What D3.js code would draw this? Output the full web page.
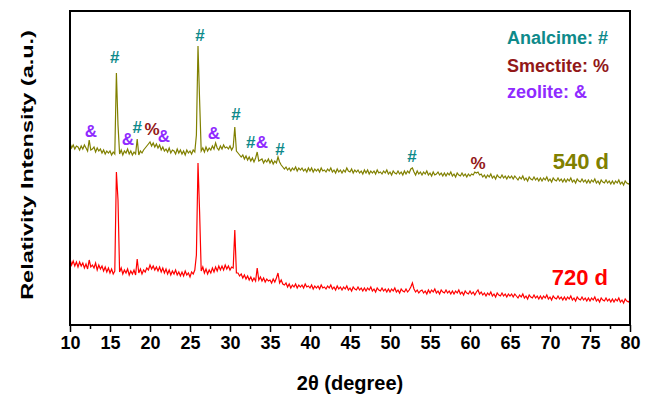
<!DOCTYPE html>
<html>
<head>
<meta charset="utf-8">
<script src="https://cdn.jsdelivr.net/npm/d3@7"></script>
<style>
  body { margin: 0; background: #fff; }
  text { font-family: "Liberation Sans", Arial, sans-serif; font-weight: bold; }
</style>
</head>
<body>
<figure id="xrd" style="margin:0"></figure>
<script>
// scan grid: 10 -> 80 deg, step 0.2
const scanStart = 10
const scanStep = 0.2

// 540 d pattern (a.u., already stacked)
const int540 = [
  182,177,180,176,179, 178,175,179,176,180, 177,174,185,175,176, 178,173,177,174,176,
  172,175,171,174,172, 174,170,173,171,252, 200,171,175,170,174, 172,176,171,174,170,
  173,171,186,170,174, 172,175,177,179,181, 183,179,182,178,181, 177,180,175,178,174,
  176,173,177,172,175, 174,171,176,172,175, 171,174,170,175,172, 174,171,175,173,190,
  279,225,174,177,173, 178,174,177,175,179, 176,182,177,175,179, 176,180,177,178,176,
  179,175,178,198,174, 172,170,168,170,166, 169,165,168,164,167, 163,167,173,164,165,
  166,162,165,163,166, 162,165,161,164,162, 168,163,160,158,156, 158,155,157,154,157,
  155,158,154,157,155, 157,154,156,153,157, 154,157,153,156,154, 156,153,157,154,155,
  153,156,154,157,153, 155,152,156,153,155, 152,155,153,157,154, 153,156,152,155,153,
  155,152,154,151,155, 152,155,151,154,152, 154,151,155,152,153, 151,154,152,155,151,
  153,150,154,152,151, 154,151,153,150,154, 151,154,152,156,157, 153,150,154,151,153,
  150,153,151,154,150, 152,149,153,150,151, 153,150,152,149,152, 149,152,150,153,149,
  151,148,152,150,149, 152,149,151,148,151, 149,151,150,153,152, 153,150,151,148,150,
  147,150,148,151,147, 149,146,150,148,147, 150,147,149,146,149, 147,149,146,149,147,
  145,148,146,149,145, 147,144,148,146,145, 148,145,147,144,147, 144,147,145,148,144,
  146,143,147,145,144, 147,144,146,143,146, 143,146,144,147,143, 145,142,146,144,143,
  146,143,145,142,145, 142,145,143,146,142, 144,141,145,143,142, 145,142,144,141,144,
  141,144,142,145,141, 143,140,144,142,141, 142
]

// 720 d pattern
const int720 = [
  66,60,64,59,63, 58,63,59,62,57, 61,56,65,58,60, 57,62,55,60,56,
  59,54,58,53,57, 52,56,51,54,153, 125,53,57,51,55, 52,56,50,54,51,
  55,50,66,52,56, 51,55,53,57,55, 60,56,59,55,58, 54,58,53,57,52,
  56,51,55,50,54, 51,55,50,53,49, 53,49,54,50,52, 48,53,51,55,70,
  162,113,54,58,52, 56,51,55,52,57, 53,58,54,59,55, 59,55,60,56,59,
  55,58,57,95,52, 52,49,51,47,50, 46,49,45,48,44, 47,44,57,45,48,
  44,47,43,46,44, 45,42,46,43,47, 52,42,45,41,40, 42,38,41,37,40,
  38,41,37,40,38, 40,37,41,38,39, 37,40,36,39,37, 39,36,40,37,38,
  36,39,37,40,36, 38,35,39,36,38, 35,38,36,39,35, 37,34,38,36,35,
  38,35,37,34,37, 34,37,35,38,34, 36,33,37,35,34, 37,34,36,33,36,
  33,36,34,37,33, 35,32,36,34,33, 36,33,35,38,42, 36,33,35,32,34,
  35,32,34,31,35, 32,35,33,36,32, 34,31,35,33,32, 35,32,34,31,34,
  31,34,32,35,31, 33,30,34,32,31, 34,31,33,30,33, 35,31,33,30,32,
  29,32,30,33,29, 31,28,32,30,29, 32,29,31,28,31, 29,31,28,31,29,
  27,30,28,31,27, 29,26,30,28,27, 30,27,29,26,29, 26,29,27,30,26,
  28,25,29,27,26, 29,26,28,25,28, 25,28,26,29,25, 27,24,28,26,25,
  28,25,27,24,27, 24,27,25,28,24, 26,23,27,25,24, 27,24,26,23,26,
  23,26,24,27,23, 25,22,26,24,23, 25
]

// phase markers on the 540 d pattern
const markPos   = [15.6, 26.25, 12.6, 17.25, 18.4, 20.25, 21.75, 28, 30.75, 32.6, 34, 36.25, 52.75, 61]
const markY     = [262, 284, 188, 180, 192, 190, 183, 186, 205, 177, 177, 170, 163, 156]
const markPhase = ["A", "A", "Z", "Z", "A", "S", "Z", "Z", "A", "A", "Z", "A", "A", "S"]

const phaseNames  = { A: "Analcime", S: "Smectite", Z: "zeolite" }
const phaseSymbol = { A: "#", S: "%", Z: "&" }
const phaseColor  = { A: "#0e8a8a", S: "#921818", Z: "#8f2bff" }

const xTicks = d3.range(10, 81, 5)
const xMinor = d3.range(12.5, 80, 5)

const W = 649, H = 396
const plotL = 70, plotR = 630, plotT = 11, plotB = 325

const svg = d3.select("figure#xrd")
  .append("svg")
  .attr("width", W)
  .attr("height", H)

const x = d3.scaleLinear().domain([10, 80]).range([plotL, plotR])
const y = d3.scaleLinear().domain([0, 314]).range([plotB, plotT])

const twoTheta = int540.map((d, i) => scanStart + i * scanStep)

const line = d3.line()
  .x((d, i) => x(twoTheta[i]))
  .y(d => y(d))

svg.append("path")
  .datum(int720)
  .attr("d", line)
  .attr("fill", "none")
  .attr("stroke", "#ff0000")
  .attr("stroke-width", 1.2)

svg.append("path")
  .datum(int540)
  .attr("d", line)
  .attr("fill", "none")
  .attr("stroke", "#808000")
  .attr("stroke-width", 1.2)

// x axis, major + minor ticks
const axis = svg.append("g")
  .attr("transform", "translate(0," + plotB + ")")
  .call(d3.axisBottom(x).tickValues(xTicks).tickSize(7).tickPadding(4))
axis.select(".domain").remove()
axis.selectAll(".tick line").attr("stroke", "#000").attr("stroke-width", 1.5)
axis.selectAll("text")
  .attr("fill", "#000")
  .style("font-size", "18px")
  .attr("font-family", null)

const minor = svg.append("g")
  .attr("transform", "translate(0," + plotB + ")")
  .call(d3.axisBottom(x).tickValues(xMinor).tickSize(4).tickFormat(""))
minor.select(".domain").remove()
minor.selectAll(".tick line").attr("stroke", "#000").attr("stroke-width", 1.5)

// frame
svg.append("rect")
  .attr("x", plotL)
  .attr("y", plotT)
  .attr("width", plotR - plotL)
  .attr("height", plotB - plotT)
  .attr("fill", "none")
  .attr("stroke", "#000")
  .attr("stroke-width", 2)

// axis titles
svg.append("text")
  .attr("x", (plotL + plotR) / 2)
  .attr("y", 390)
  .attr("text-anchor", "middle")
  .style("font-size", "20px")
  .text("2\u03b8 (degree)")

svg.append("text")
  .attr("transform", "translate(33," + ((plotT + plotB) / 2 - 3) + ")rotate(-90)scale(1.38,1)")
  .attr("text-anchor", "middle")
  .style("font-size", "17px")
  .text("Relativity Intensity (a.u.)")

// markers
svg.selectAll("text.mark")
  .data(markPos)
  .enter()
  .append("text")
  .attr("class", "mark")
  .attr("x", d => x(d))
  .attr("y", (d, i) => y(markY[i]))
  .attr("text-anchor", "middle")
  .style("font-size", "17px")
  .attr("fill", (d, i) => phaseColor[markPhase[i]])
  .text((d, i) => phaseSymbol[markPhase[i]])

// legend
const phases = ["A", "S", "Z"]
svg.selectAll("text.legend")
  .data(phases)
  .enter()
  .append("text")
  .attr("class", "legend")
  .attr("x", 507)
  .attr("y", (d, i) => [44, 72, 98][i])
  .style("font-size", "18px")
  .attr("fill", d => phaseColor[d])
  .text(d => phaseNames[d] + ": " + phaseSymbol[d])

// sample labels
svg.append("text")
  .attr("x", 609).attr("y", 169)
  .attr("text-anchor", "end")
  .style("font-size", "22px")
  .attr("fill", "#808000")
  .text("540 d")

svg.append("text")
  .attr("x", 608).attr("y", 285)
  .attr("text-anchor", "end")
  .style("font-size", "22px")
  .attr("fill", "#ff0000")
  .text("720 d")
</script>
</body>
</html>
